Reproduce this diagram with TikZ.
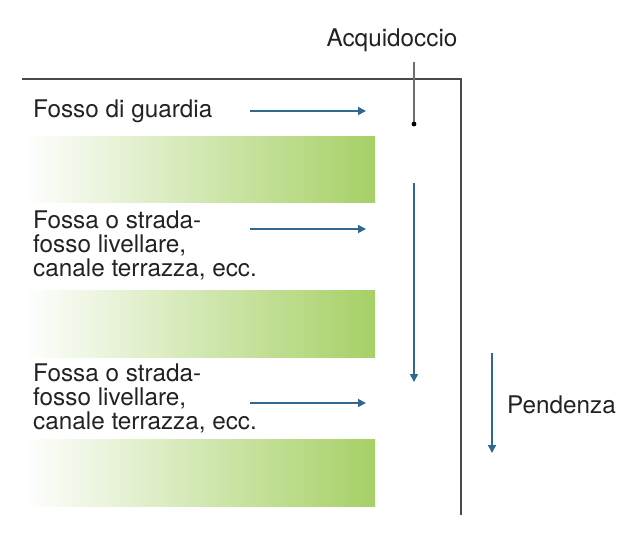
\documentclass[tikz,border=0pt]{standalone}
\usepackage{fontspec}
\setmainfont{TeX Gyre Heros}
\usetikzlibrary{arrows.meta}
\definecolor{txt}{HTML}{222222}
\definecolor{frame}{HTML}{4A4A4A}
\definecolor{arr}{HTML}{2F6890}
\definecolor{grn}{HTML}{A6D066}
\tikzset{
  lbl/.style={font=\fontsize{24.3}{24}\selectfont, text=txt, inner sep=0pt, align=left},
  flow/.style={draw=arr, line width=1.6pt, -{Triangle[length=8pt,width=8pt]}},
  bar/.style={left color=white, right color=grn, draw=none},
}
\begin{document}
\begin{tikzpicture}[x=1pt,y=-1pt]
\useasboundingbox (0,0) rectangle (632,536);
% frame
\draw[frame, line width=1.8pt] (22,79) -- (461,79) -- (461,515);
% green bars
\fill[bar] (24,136) rectangle (375,202);
\fill[bar] (24,290) rectangle (375,357);
\fill[bar] (24,439) rectangle (375,506);
% labels
\node[lbl, anchor=base west] (t1) at (33,117) {Fosso di guardia};
\node[lbl, anchor=north west] (t2) at (33,211) {Fossa o strada-\\fosso livellare,\\canale terrazza, ecc.};
\node[lbl, anchor=north west] (t3) at (33,364) {Fossa o strada-\\fosso livellare,\\canale terrazza, ecc.};
\node[lbl, anchor=base] (acq) at (392,46) {Acquidoccio};
\node[lbl, anchor=base west] (pen) at (507,413) {Pendenza};
% leader
\coordinate (l1) at (414,62);
\coordinate (l2) at (414,124);
\draw[frame!80, line width=1.1pt] (l1) -- (l2);
\fill[black] (l2) circle (2.4pt);
% horizontal arrows
\coordinate (a1s) at (250,111); \coordinate (a1e) at (366,111);
\coordinate (a2s) at (250,229); \coordinate (a2e) at (366,229);
\coordinate (a3s) at (250,403); \coordinate (a3e) at (366,403);
\draw[flow] (a1s) -- (a1e);
\draw[flow] (a2s) -- (a2e);
\draw[flow] (a3s) -- (a3e);
% vertical arrows
\coordinate (v1s) at (414,183); \coordinate (v1e) at (414,382);
\coordinate (v2s) at (492,353); \coordinate (v2e) at (492,453);
\draw[flow] (v1s) -- (v1e);
\draw[flow] (v2s) -- (v2e);
\end{tikzpicture}
\end{document}
